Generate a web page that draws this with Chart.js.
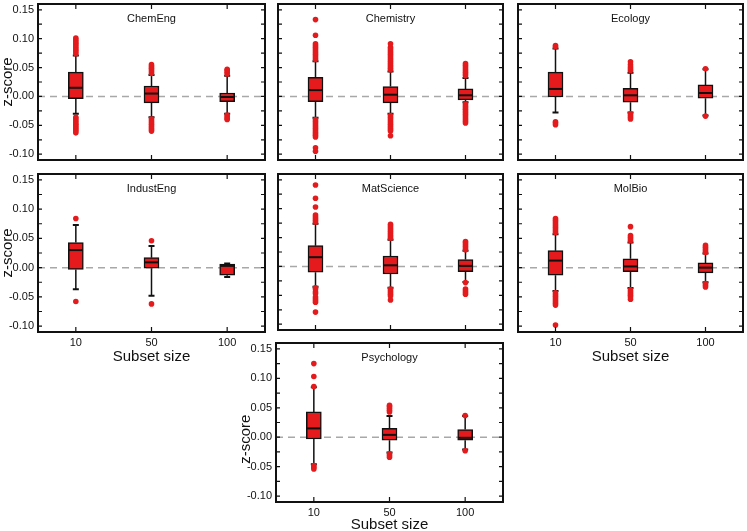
<!DOCTYPE html>
<html>
<head>
<meta charset="utf-8">
<script src="https://cdn.jsdelivr.net/npm/chart.js@4.4.1/dist/chart.umd.min.js"></script>
<style>
  html, body { margin: 0; padding: 0; background: #fff; overflow: hidden; }
  body { width: 747px; height: 531px; position: relative; }
  canvas { position: absolute; }
</style>
</head>
<body>
<script>
// subset sizes (x categories) and y tick labels
const subsets = ['10', '50', '100'];
const yTicks = [-0.10, -0.05, 0.00, 0.05, 0.10, 0.15];
const yMarks = [-0.10, -0.075, -0.05, -0.025, 0, 0.025, 0.05, 0.075, 0.10, 0.125, 0.15];

// per subset: [lower whisker, q1, median, q3, upper whisker]
const chemEngStats = [[-0.030, -0.004, 0.015, 0.042, 0.071], [-0.036, -0.011, 0.005, 0.018, 0.037], [-0.030, -0.009, -0.001, 0.006, 0.036]];
const chemEngOutliers = [
  [0.074, 0.077, 0.080, 0.083, 0.086, 0.089, 0.092, 0.095, 0.098, 0.101, -0.036, -0.039, -0.042, -0.045, -0.048, -0.051, -0.054, -0.057, -0.060, -0.063],
  [0.040, 0.043, 0.046, 0.049, 0.052, 0.055, -0.039, -0.042, -0.045, -0.048, -0.051, -0.054, -0.057, -0.060],
  [0.039, 0.042, 0.045, 0.047, -0.032, -0.035, -0.038, -0.040]
];

const chemistryStats = [[-0.037, -0.009, 0.011, 0.033, 0.061], [-0.030, -0.011, 0.003, 0.017, 0.043], [-0.010, -0.006, 0.002, 0.013, 0.032]];
const chemistryOutliers = [
  [0.064, 0.067, 0.070, 0.073, 0.076, 0.079, 0.082, 0.085, 0.088, 0.091, 0.106, 0.133, -0.040, -0.043, -0.046, -0.049, -0.052, -0.055, -0.058, -0.061, -0.064, -0.067, -0.070, -0.089, -0.095],
  [0.046, 0.049, 0.052, 0.055, 0.058, 0.061, 0.064, 0.067, 0.070, 0.073, 0.076, 0.079, 0.082, 0.085, 0.091, -0.033, -0.036, -0.039, -0.042, -0.045, -0.048, -0.051, -0.054, -0.057, -0.060, -0.068],
  [0.036, 0.039, 0.042, 0.045, 0.048, 0.051, 0.054, 0.057, -0.013, -0.016, -0.019, -0.022, -0.025, -0.028, -0.031, -0.034, -0.037, -0.040, -0.043, -0.046]
];

const ecologyStats = [[-0.028, -0.001, 0.013, 0.042, 0.083], [-0.028, -0.010, 0.002, 0.014, 0.041], [-0.033, -0.003, 0.006, 0.020, 0.047]];
const ecologyOutliers = [
  [0.086, 0.088, -0.044, -0.046, -0.049],
  [0.045, 0.048, 0.051, 0.055, 0.060, -0.030, -0.033, -0.036, -0.039],
  [0.048, -0.034]
];

const industEngStats = [[-0.037, -0.003, 0.030, 0.043, 0.073], [-0.048, -0.001, 0.009, 0.017, 0.037], [-0.016, -0.013, 0.003, 0.006, 0.007]];
const industEngOutliers = [[0.084, -0.058], [0.046, -0.062], []];

const matScienceStats = [[-0.035, -0.010, 0.016, 0.036, 0.074], [-0.037, -0.013, 0.002, 0.018, 0.046], [-0.027, -0.009, 0.001, 0.012, 0.027]];
const matScienceOutliers = [
  [0.077, 0.080, 0.083, 0.086, 0.089, 0.103, 0.118, 0.141, -0.037, -0.039, -0.044, -0.047, -0.053, -0.056, -0.059, -0.062, -0.079],
  [0.049, 0.052, 0.055, 0.058, 0.061, 0.064, 0.067, 0.070, 0.073, -0.039, -0.042, -0.045, -0.048, -0.051, -0.058],
  [0.029, 0.032, 0.035, 0.038, 0.041, 0.043, -0.028, -0.039, -0.042, -0.045, -0.048]
];

const molBioStats = [[-0.040, -0.013, 0.012, 0.029, 0.057], [-0.035, -0.007, 0.002, 0.015, 0.043], [-0.025, -0.009, 0.000, 0.008, 0.024]];
const molBioOutliers = [
  [0.060, 0.063, 0.066, 0.069, 0.072, 0.075, 0.078, 0.081, 0.084, -0.043, -0.046, -0.049, -0.052, -0.055, -0.058, -0.061, -0.064, -0.098],
  [0.046, 0.049, 0.052, 0.055, 0.070, -0.038, -0.041, -0.044, -0.047, -0.050, -0.054],
  [0.026, 0.029, 0.032, 0.035, 0.038, -0.027, -0.030, -0.033]
];

const psychologyStats = [[-0.046, -0.003, 0.015, 0.043, 0.085], [-0.026, -0.005, 0.004, 0.015, 0.036], [-0.021, -0.005, -0.001, 0.013, 0.036]];
const psychologyOutliers = [
  [0.086, 0.103, 0.125, -0.048, -0.051, -0.054],
  [0.043, 0.046, 0.049, 0.052, 0.054, -0.028, -0.031, -0.034],
  [0.037, -0.023]
];

const red = '#e41a1c';
const ink = '#111';
Chart.defaults.font.family = "'Liberation Sans', Arial, Helvetica, sans-serif";
Chart.defaults.color = ink;

// frame boxes in page pixels
const panels = [
  { title: 'ChemEng', stats: chemEngStats, out: chemEngOutliers, x0: 38, x1: 267, y0: 2, y1: 162, yLab: 'z-score', xH: 0 },
  { title: 'Chemistry', stats: chemistryStats, out: chemistryOutliers, x0: 276, x1: 505, y0: 2, y1: 162, yLab: '', xH: 0 },
  { title: 'Ecology', stats: ecologyStats, out: ecologyOutliers, x0: 516, x1: 745, y0: 2, y1: 162, yLab: '', xH: 0 },
  { title: 'IndustEng', stats: industEngStats, out: industEngOutliers, x0: 38, x1: 267, y0: 172, y1: 332, yLab: 'z-score', xH: 32 },
  { title: 'MatScience', stats: matScienceStats, out: matScienceOutliers, x0: 276, x1: 505, y0: 172, y1: 332, yLab: '', xH: 0 },
  { title: 'MolBio', stats: molBioStats, out: molBioOutliers, x0: 516, x1: 745, y0: 172, y1: 332, yLab: '', xH: 32 },
  // trailing spaces push the rotated label down, as in the source figure
  { title: 'Psychology', stats: psychologyStats, out: psychologyOutliers, x0: 276, x1: 505, y0: 341, y1: 502, yLab: 'z-score        ', xH: 30 }
];

const boxplotPlugin = {
  id: 'boxplot',
  beforeDatasetsDraw(chart, args, opts) {
    const { ctx, chartArea: a, scales: { x, y } } = chart;
    ctx.save();
    const z = y.getPixelForValue(0);
    ctx.strokeStyle = '#a8a8a8';
    ctx.lineWidth = 1.5;
    ctx.setLineDash([7, 5]);
    ctx.beginPath(); ctx.moveTo(a.left, z); ctx.lineTo(a.right, z); ctx.stroke();
    ctx.setLineDash([]);
    ctx.strokeStyle = ink;
    opts.stats.forEach((s, i) => {
      const px = x.getPixelForValue(i);
      const lo = y.getPixelForValue(s[0]), q1 = y.getPixelForValue(s[1]);
      const q3 = y.getPixelForValue(s[3]), hi = y.getPixelForValue(s[4]);
      ctx.lineWidth = 1.5;
      ctx.beginPath();
      ctx.moveTo(px, lo); ctx.lineTo(px, q1);
      ctx.moveTo(px, q3); ctx.lineTo(px, hi);
      ctx.stroke();
      ctx.lineWidth = 2;
      ctx.beginPath();
      ctx.moveTo(px - 3, lo); ctx.lineTo(px + 3, lo);
      ctx.moveTo(px - 3, hi); ctx.lineTo(px + 3, hi);
      ctx.stroke();
    });
    ctx.restore();
  },
  afterDatasetsDraw(chart, args, opts) {
    const { ctx, chartArea: a, scales: { x, y } } = chart;
    ctx.save();
    ctx.strokeStyle = ink;
    ctx.lineWidth = 2;
    opts.stats.forEach((s, i) => {
      const px = x.getPixelForValue(i);
      const m = y.getPixelForValue(s[2]);
      ctx.beginPath(); ctx.moveTo(px - 7, m); ctx.lineTo(px + 7, m); ctx.stroke();
    });
    // frame + inward ticks
    ctx.strokeRect(a.left, a.top, a.right - a.left, a.bottom - a.top);
    ctx.lineWidth = 1.2;
    ctx.beginPath();
    yMarks.forEach(v => {
      const py = y.getPixelForValue(v);
      ctx.moveTo(a.left, py); ctx.lineTo(a.left + 4, py);
      ctx.moveTo(a.right, py); ctx.lineTo(a.right - 4, py);
    });
    subsets.forEach((c, i) => {
      const px = x.getPixelForValue(i);
      ctx.moveTo(px, a.top); ctx.lineTo(px, a.top + 5);
      ctx.moveTo(px, a.bottom); ctx.lineTo(px, a.bottom - 5);
    });
    ctx.stroke();
    ctx.fillStyle = ink;
    ctx.font = "11px 'Liberation Sans', Arial, sans-serif";
    ctx.textAlign = 'center';
    ctx.textBaseline = 'middle';
    ctx.fillText(opts.title, (a.left + a.right) / 2, a.top + 15);
    ctx.restore();
  }
};

panels.forEach(p => {
  const yW = p.yLab ? 38 : 0;
  const pad = { left: p.yLab ? 0 : 2, right: 2, top: 2, bottom: p.xH ? 0 : 2 };
  const w = pad.left + yW + (p.x1 - p.x0) + pad.right;
  const h = pad.top + (p.y1 - p.y0) + p.xH + pad.bottom;
  const cv = document.createElement('canvas');
  cv.width = w; cv.height = h;
  cv.style.width = w + 'px'; cv.style.height = h + 'px';
  cv.style.left = (p.x0 - yW - pad.left) + 'px';
  cv.style.top = (p.y0 - pad.top) + 'px';
  document.body.appendChild(cv);

  const points = [];
  p.out.forEach((vals, i) => vals.forEach(v => points.push({ x: subsets[i], y: v })));

  new Chart(cv, {
    type: 'bar',
    data: {
      labels: subsets,
      datasets: [{
        type: 'line',
        data: points,
        showLine: false,
        pointRadius: 2.8,
        pointBorderWidth: 0,
        pointBackgroundColor: red,
        pointBorderColor: red,
        order: 0
      }, {
        data: p.stats.map(s => [s[1], s[3]]),
        backgroundColor: red,
        borderColor: ink,
        borderWidth: 1.5,
        borderSkipped: false,
        barThickness: 15,
        order: 1
      }]
    },
    plugins: [boxplotPlugin],
    options: {
      responsive: false,
      devicePixelRatio: 1,
      animation: false,
      layout: { padding: pad },
      plugins: {
        legend: { display: false },
        tooltip: { enabled: false },
        boxplot: { stats: p.stats, title: p.title }
      },
      scales: {
        x: {
          type: 'category',
          display: p.xH > 0,
          grid: { display: false, drawTicks: false },
          border: { display: false },
          ticks: { font: { size: 11 }, padding: 4, color: ink, maxRotation: 0 },
          title: { display: true, text: 'Subset size', font: { size: 15, lineHeight: 1 }, padding: 0, color: ink },
          afterFit: s => {
            if (!p.xH) return;
            s.height = p.xH;
            s.paddingLeft = 0; s.paddingRight = 0;
          }
        },
        y: {
          display: !!p.yLab,
          min: -0.11,
          max: 0.16,
          grid: { display: false, drawTicks: false },
          border: { display: false },
          afterBuildTicks: s => { s.ticks = yTicks.map(v => ({ value: v })); },
          ticks: { font: { size: 11 }, padding: 4, color: ink, callback: v => v.toFixed(2) },
          title: { display: true, text: p.yLab, font: { size: 15, lineHeight: 1 }, padding: 0, color: ink },
          afterFit: s => {
            if (!p.yLab) return;
            s.width = 38;
            s.paddingTop = 0; s.paddingBottom = 0;
          }
        }
      }
    }
  });
});
</script>
</body>
</html>
